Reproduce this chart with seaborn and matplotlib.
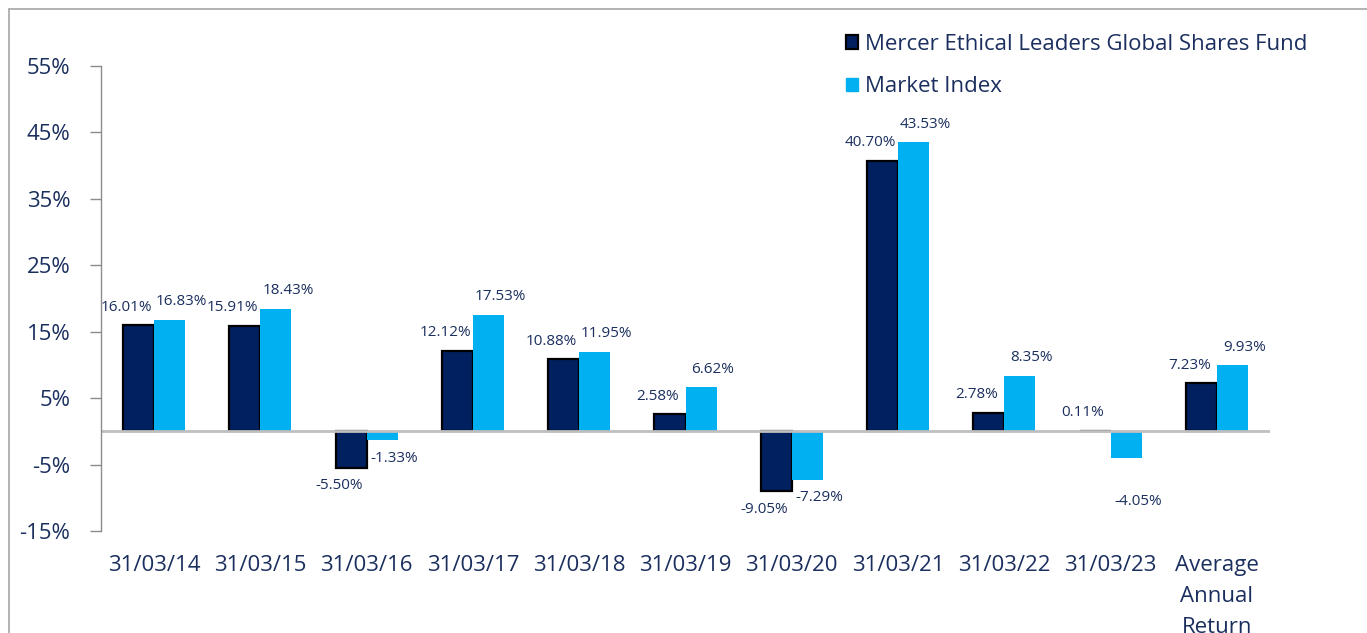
import pandas as pd
import numpy as np
import seaborn as sns
import matplotlib.pyplot as plt
from matplotlib.lines import Line2D
from matplotlib.patches import Patch

categories = ['31/03/14', '31/03/15', '31/03/16', '31/03/17', '31/03/18', '31/03/19',
              '31/03/20', '31/03/21', '31/03/22', '31/03/23', 'Average\nAnnual\nReturn']
fund = [16.01, 15.91, -5.50, 12.12, 10.88, 2.58, -9.05, 40.70, 2.78, 0.11, 7.23]
index = [16.83, 18.43, -1.33, 17.53, 11.95, 6.62, -7.29, 43.53, 8.35, -4.05, 9.93]
series = ['Mercer Ethical Leaders Global Shares Fund', 'Market Index']

navy = '#002060'
sky = '#00B0F0'
txt = '#1B2F5E'

df = pd.DataFrame({
    'cat': categories * 2,
    'val': fund + index,
    'series': [series[0]] * len(fund) + [series[1]] * len(index),
})

sns.set_style('white')
plt.rcParams['font.family'] = ['Open Sans', 'DejaVu Sans']

fig = plt.figure(figsize=(13.67, 6.33), dpi=100)
ax = fig.add_axes([101 / 1367, 1 - 531 / 633, (1270 - 101) / 1367, (531 - 66) / 633])

sns.barplot(data=df, x='cat', y='val', hue='series', palette=[navy, sky],
            width=0.585, gap=0, saturation=1, ax=ax, legend=False)

# dark bars get a black outline
for bar in ax.containers[0]:
    bar.set_edgecolor('black')
    bar.set_linewidth(1.6)
for bar in ax.containers[1]:
    bar.set_linewidth(0)

ax.set_ylim(-15, 55)
ax.set_xlim(-0.5, len(categories) - 0.5)
ax.set_yticks(np.arange(-15, 56, 10))
ax.set_yticklabels([f'{v}%' for v in range(-15, 56, 10)])
ax.tick_params(axis='y', length=8, width=1, color='#8C8C8C', labelsize=16,
               labelcolor=txt, pad=14, left=True)
ax.tick_params(axis='x', length=0, labelsize=16, labelcolor=txt, pad=17)
for lab in ax.get_xticklabels():
    lab.set_linespacing(1.65)
ax.set_xlabel('')
ax.set_ylabel('')
for s in ['top', 'right', 'bottom']:
    ax.spines[s].set_visible(False)
ax.spines['left'].set_color('#8C8C8C')
ax.spines['left'].set_linewidth(1)
ax.axhline(0, color='#BFBFBF', lw=2, zorder=1)

# data labels
nudge = {(1, 9): -25}
for k, cont in enumerate(ax.containers):
    dx = -12 if k == 0 else 12
    for i, bar in enumerate(cont):
        v = fund[i] if k == 0 else index[i]
        dy = 18 if v >= 0 else -18
        dy += nudge.get((k, i), 0)
        x = bar.get_x() + bar.get_width() / 2
        ax.annotate(f'{v:.2f}%', (x, v), xytext=(dx, dy), textcoords='offset pixels',
                    ha='center', va='center', fontsize=11, color=txt)

handles = [Patch(facecolor=navy, edgecolor='black', linewidth=1.6),
           Patch(facecolor=sky, edgecolor=sky)]
fig.legend(handles, series, loc='upper left', bbox_to_anchor=(826 / 1367, 1 - 14 / 633),
           frameon=False, fontsize=16, handlelength=0.55, handleheight=0.55,
           handletextpad=0.3, labelspacing=0.95, labelcolor=txt)

# outer frame of the screenshot
fig.add_artist(Line2D([9 / 1367, 9 / 1367], [0, 1 - 9 / 633], color='#A6A6A6', lw=1.2))
fig.add_artist(Line2D([9 / 1367, 1], [1 - 9 / 633, 1 - 9 / 633], color='#A6A6A6', lw=1.2))

fig.savefig('out.png', dpi=100)
